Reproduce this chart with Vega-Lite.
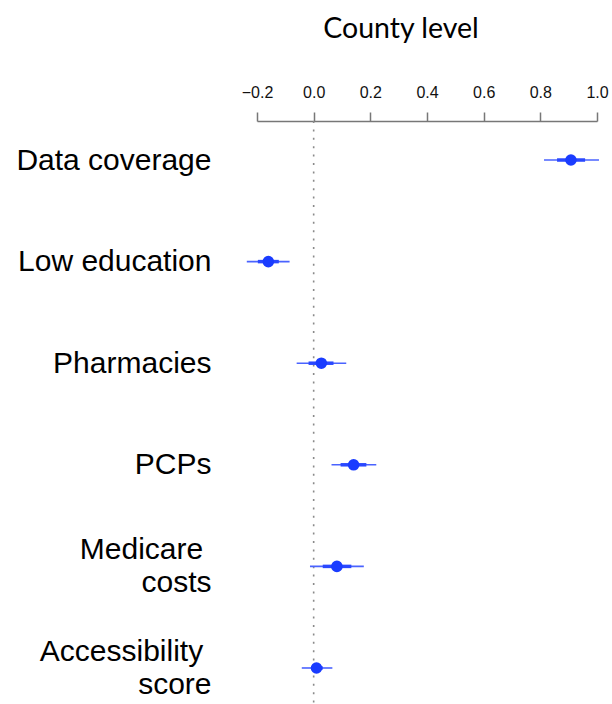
{
  "$schema": "https://vega.github.io/schema/vega-lite/v6.json",
  "autosize": "none",
  "padding": {"left": 257, "top": 121, "right": 15, "bottom": 0},
  "width": 340,
  "height": 586,
  "config": {"view": {"stroke": null}, "font": "Liberation Sans"},
  "data": {
    "values": [
      {"variable": "Data coverage", "est": 0.908, "lo": 0.813, "hi": 1.007, "lo50": 0.859, "hi50": 0.958},
      {"variable": "Low education", "est": -0.160, "lo": -0.236, "hi": -0.085, "lo50": -0.197, "hi50": -0.123},
      {"variable": "Pharmacies", "est": 0.027, "lo": -0.060, "hi": 0.115, "lo50": -0.018, "hi50": 0.070},
      {"variable": "PCPs", "est": 0.141, "lo": 0.063, "hi": 0.221, "lo50": 0.095, "hi50": 0.186},
      {"variable": "Medicare costs", "est": 0.082, "lo": -0.013, "hi": 0.177, "lo50": 0.032, "hi50": 0.133},
      {"variable": "Accessibility score", "est": 0.010, "lo": -0.042, "hi": 0.066, "lo50": -0.007, "hi50": 0.032}
    ]
  },
  "layer": [
    {
      "data": {"values": [{"ref": 0}]},
      "mark": {"type": "rule", "strokeDash": [2, 6.4], "color": "#8a8a8a", "strokeWidth": 1.6},
      "encoding": {
        "x": {
          "field": "ref", "type": "quantitative",
          "scale": {"domain": [-0.2, 1.0], "nice": false, "zero": false},
          "axis": {
            "orient": "top", "values": [-0.2, 0, 0.2, 0.4, 0.6, 0.8, 1.0], "format": ".1f",
            "grid": false, "domainColor": "#777777", "domainWidth": 1.5, "tickColor": "#777777",
            "tickWidth": 1.5, "tickSize": 9, "labelFontSize": 16, "labelColor": "#111111",
            "labelPadding": 12, "labelFlush": false, "labelOverlap": false,
            "title": "County level", "titleFont": "Lato", "titleFontSize": 28.5, "titleFontWeight": "normal",
            "titleColor": "#000000", "titleX": 143.5, "titleY": -93, "titleAlign": "center", "titleBaseline": "middle"
          }
        }
      }
    },
    {
      "mark": {"type": "rule", "color": "#4a63ff", "strokeWidth": 1.6},
      "encoding": {
        "x": {"field": "lo", "type": "quantitative", "title": "County level"},
        "x2": {"field": "hi"},
        "y": {
          "field": "variable", "type": "nominal", "sort": null,
          "scale": {"type": "point", "padding": 0.384},
          "axis": {
            "title": null, "domain": false, "ticks": false, "grid": false,
            "labelFontSize": 30, "labelColor": "#000000", "labelPadding": 46, "labelLineHeight": 33,
            "labelLimit": 0, "labelAlign": "right", "labelBaseline": "middle",
            "labelOffset": {"condition": {"test": "datum.value == 'Medicare costs' || datum.value == 'Accessibility score'", "value": -16.5}, "value": 0},
            "labelExpr": "datum.value == 'Medicare costs' ? ['Medicare \u200b', 'costs'] : datum.value == 'Accessibility score' ? ['Accessibility \u200b', 'score'] : datum.value"
          }
        }
      }
    },
    {
      "mark": {"type": "rule", "color": "#2a48ff", "strokeWidth": 3.5},
      "encoding": {
        "x": {"field": "lo50", "type": "quantitative", "title": "County level"},
        "x2": {"field": "hi50"},
        "y": {"field": "variable", "type": "nominal", "sort": null}
      }
    },
    {
      "mark": {"type": "point", "filled": true, "color": "#1a3cff", "opacity": 1, "size": 135},
      "encoding": {
        "x": {"field": "est", "type": "quantitative", "title": "County level"},
        "y": {"field": "variable", "type": "nominal", "sort": null}
      }
    }
  ]
}
